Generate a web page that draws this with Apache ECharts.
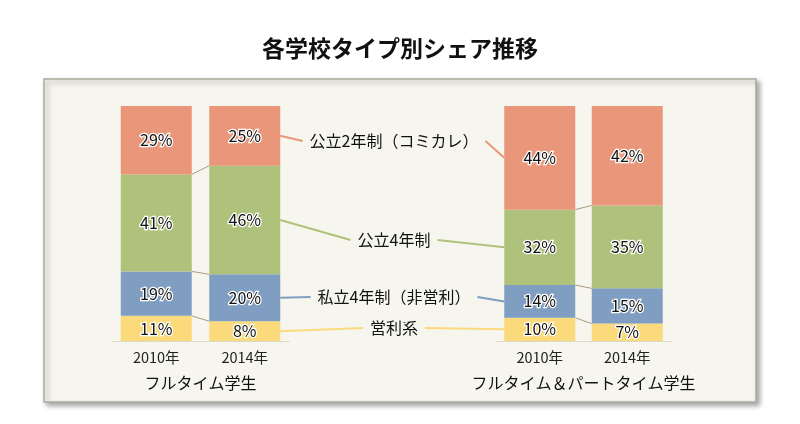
<!DOCTYPE html>
<html>
<head>
<meta charset="utf-8">
<script src="https://cdn.jsdelivr.net/npm/echarts@6/dist/echarts.min.js"></script>
<style>
html,body{margin:0;padding:0;background:#ffffff;}
#chart{width:800px;height:424px;}
</style>
</head>
<body>
<div id="chart"></div>
<script>
// ---- data ----
const titleText = '各学校タイプ別シェア推移';
const categories = ['2010年', '2014年'];
const groupNames = ['フルタイム学生', 'フルタイム＆パートタイム学生'];
// segment names, bottom to top of the stack
const segmentNames = ['営利系', '私立4年制（非営利）', '公立4年制', '公立2年制（コミカレ）'];
// full-time students (%)
const ftForProfit = [10.7, 8.4];
const ftPrivate4 = [18.9, 20.0];
const ftPublic4 = [41.3, 46.2];
const ftPublic2 = [29.1, 25.4];
// full-time & part-time students (%)
const allForProfit = [9.9, 7.4];
const allPrivate4 = [13.9, 15.0];
const allPublic4 = [32.1, 35.3];
const allPublic2 = [44.1, 42.3];

// ---- styles / layout ----
const segmentColors = ['#fada7a', '#7f9ec2', '#afc27c', '#e9967a'];
const FONT = "'Noto Sans CJK JP', 'Noto Sans', sans-serif";
const BAR_W = 71;
const calloutY = [328, 297, 240, 141]; // vertical position of each segment callout label
const calloutX = 394;

const groupsData = [
  [ftForProfit, ftPrivate4, ftPublic4, ftPublic2],
  [allForProfit, allPrivate4, allPublic4, allPublic2]
];

const chart = echarts.init(document.getElementById('chart'));

const grids = [
  { left: 112, top: 106, width: 177, height: 235 },
  { left: 496, top: 106, width: 175, height: 235 }
];

const xAxes = grids.map((g, gi) => ({
  type: 'category', gridIndex: gi, data: categories,
  axisLine: { lineStyle: { color: '#d9d9c8', width: 1 } },
  axisTick: { show: false },
  axisLabel: { fontFamily: FONT, fontSize: 14.5, color: '#222', margin: 9 },
  name: groupNames[gi], nameLocation: 'middle', nameGap: 34,
  nameTextStyle: { fontFamily: FONT, fontSize: 16, color: '#111' }
}));
const yAxes = grids.map((g, gi) => ({
  type: 'value', gridIndex: gi, min: 0, max: 100, show: false
}));

const series = [];
groupsData.forEach((segs, gi) => {
  segs.forEach((vals, si) => {
    series.push({
      type: 'bar', name: segmentNames[si], stack: 'g' + gi,
      xAxisIndex: gi, yAxisIndex: gi, barWidth: BAR_W,
      data: vals,
      itemStyle: { color: segmentColors[si] },
      label: {
        show: true, position: 'inside',
        formatter: p => Math.round(p.value) + '%',
        fontFamily: FONT, fontSize: 16, color: '#111',
        textBorderColor: '#ffffff', textBorderWidth: 2.5
      },
      emphasis: { disabled: true },
      z: 3
    });
  });
});

const panel = {
  id: 'panel', type: 'rect', z: -10,
  shape: { x: 44, y: 79, width: 712, height: 323 },
  style: {
    fill: '#f7f6ee', stroke: '#aaaa9c', lineWidth: 1.5,
    shadowBlur: 5, shadowOffsetX: 3, shadowOffsetY: 3, shadowColor: 'rgba(0,0,0,0.35)'
  }
};

chart.setOption({
  animation: false,
  backgroundColor: '#ffffff',
  title: {
    text: titleText, left: 'center', top: 32,
    textStyle: { fontFamily: FONT, fontSize: 23, fontWeight: 'bold', color: '#111' }
  },
  grid: grids,
  xAxis: xAxes,
  yAxis: yAxes,
  series: series,
  graphic: [panel]
});

// ---- series lines and callouts computed from the data through the axes ----
const ctx = document.createElement('canvas').getContext('2d');
ctx.font = '16px ' + FONT;

const graphics = [panel];
function px(gi, cat, val) { return chart.convertToPixel({ gridIndex: gi }, [cat, val]); }

groupsData.forEach((segs, gi) => {
  let cum0 = 0, cum1 = 0;
  for (let si = 0; si < segs.length - 1; si++) {
    cum0 += segs[si][0];
    cum1 += segs[si][1];
    const a = px(gi, 0, cum0), b = px(gi, 1, cum1);
    graphics.push({
      type: 'line', z: 1,
      shape: { x1: a[0] + BAR_W / 2, y1: a[1], x2: b[0] - BAR_W / 2, y2: b[1] },
      style: { stroke: '#ab9c7e', lineWidth: 1 }
    });
  }
});

segmentNames.forEach((name, si) => {
  // left: middle of segment in 2014 bar of group 0; right: middle of segment in 2010 bar of group 1
  const L = groupsData[0], R = groupsData[1];
  let baseL = 0, baseR = 0;
  for (let k = 0; k < si; k++) { baseL += L[k][1]; baseR += R[k][0]; }
  const pl = px(0, 1, baseL + L[si][1] / 2);
  const pr = px(1, 0, baseR + R[si][0] / 2);
  const w = ctx.measureText(name).width;
  const ty = calloutY[si];
  const tl = calloutX - w / 2, tr = calloutX + w / 2;
  graphics.push({
    type: 'line', z: 1,
    shape: { x1: pl[0] + BAR_W / 2, y1: pl[1], x2: tl - 7, y2: ty },
    style: { stroke: segmentColors[si], lineWidth: 2 }
  });
  graphics.push({
    type: 'line', z: 1,
    shape: { x1: tr + 7, y1: ty, x2: pr[0] - BAR_W / 2, y2: pr[1] },
    style: { stroke: segmentColors[si], lineWidth: 2 }
  });
  graphics.push({
    type: 'text', z: 2,
    style: {
      text: name, x: calloutX, y: ty, align: 'center', verticalAlign: 'middle',
      font: '16px ' + FONT, fill: '#111'
    }
  });
});

chart.setOption({ graphic: graphics }, { replaceMerge: ['graphic'] });
</script>
</body>
</html>
